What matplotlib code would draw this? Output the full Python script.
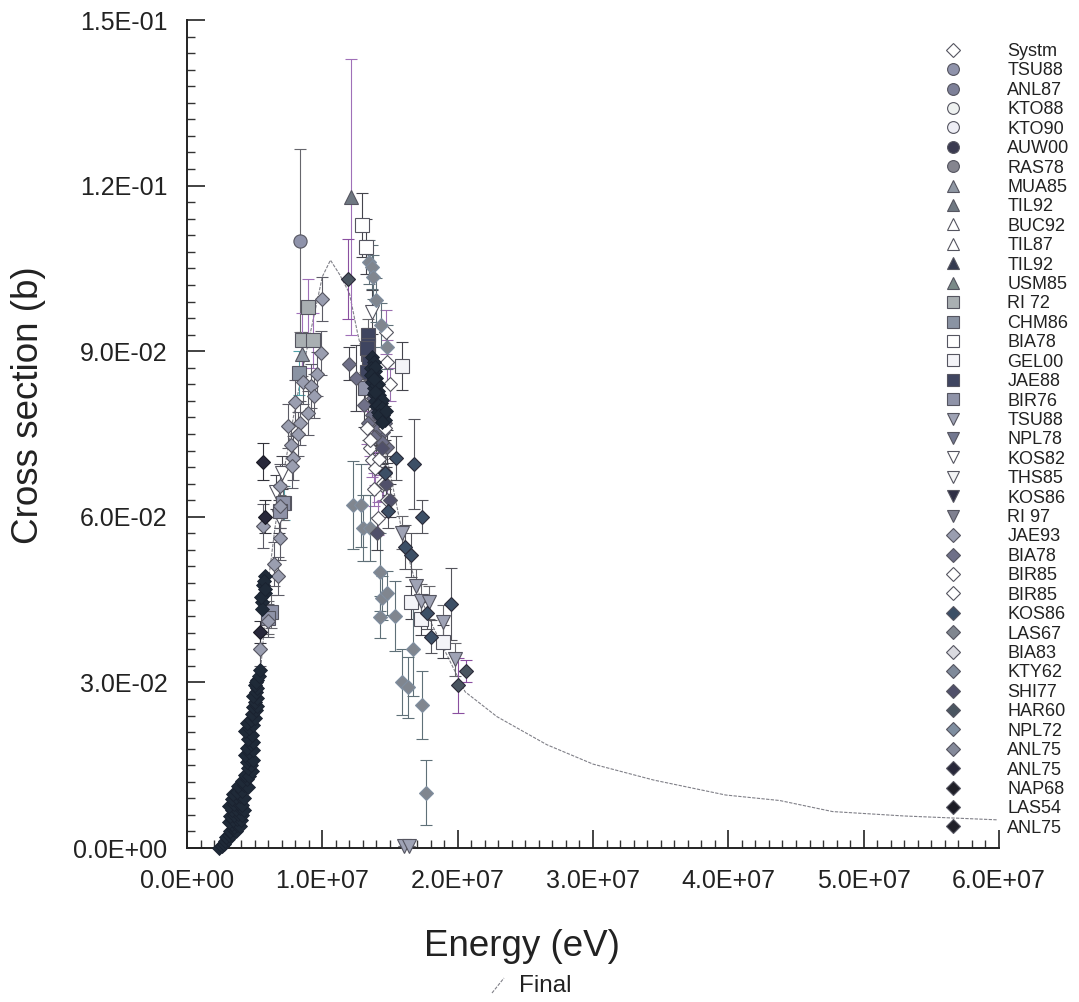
"""
Cross section vs energy: evaluated curve with EXFOR-style experimental points.
"""
import matplotlib
matplotlib.use('Agg')
import matplotlib.pyplot as plt
import matplotlib.ticker as mticker
from matplotlib.lines import Line2D

plt.rcParams['font.family'] = ['Liberation Sans', 'DejaVu Sans']

E_UNIT = 1e7  # energies below are typed in units of 1E+07 eV

# ---- Data ----
final_e = [0.24, 0.30, 0.40, 0.50, 0.55, 0.60, 0.65, 0.70, 0.80, 0.90, 1.00, 1.06, 1.13, 1.20, 1.26,
           1.33, 1.42, 1.50, 1.60, 1.70, 1.80, 1.90, 2.055, 2.29, 2.66, 3.00, 3.45, 3.98, 4.38, 4.77, 5.30, 5.99]
final_s = [0.0, 0.002, 0.0085, 0.023, 0.034, 0.048, 0.058, 0.066, 0.080, 0.092, 0.1035, 0.1065, 0.1038,
           0.1005, 0.0933, 0.086, 0.077, 0.068, 0.056, 0.047, 0.041, 0.036, 0.0283, 0.0238, 0.0187,
           0.0152, 0.0123, 0.0096, 0.0086, 0.0066, 0.0058, 0.0051]

tsu88_e = [0.835]
tsu88_s = [0.110]
tsu88_d = [0.0166]

mua85_e = [0.848]
mua85_s = [0.0895]
mua85_d = [0.004]

til92_e = [1.21]
til92_s = [0.118]
til92_d = [0.025]

ri72_e = [0.848, 0.93, 0.895]
ri72_s = [0.092, 0.092, 0.098]
ri72_d = [0.005, 0.005, 0.005]

chm86_e = [0.828, 0.72]
chm86_s = [0.0861, 0.0625]
chm86_d = [0.004, 0.003]

bia78_sq_e = [1.29, 1.32]
bia78_sq_s = [0.1129, 0.1089]
bia78_sq_d = [0.0058, 0.005]

gel00_e = [1.587, 1.89, 1.655, 1.73]
gel00_s = [0.0873, 0.0374, 0.0445, 0.0415]
gel00_d = [0.0044, 0.003, 0.003, 0.003]

jae88_e = [1.34, 1.34, 1.335, 1.33, 1.345, 1.33]
jae88_s = [0.0929, 0.0912, 0.0895, 0.0905, 0.0878, 0.0862]
jae88_d = [0.003, 0.003, 0.003, 0.003, 0.003, 0.003]

bir76_e = [1.315, 0.62, 0.60, 0.71, 0.69, 1.40]
bir76_s = [0.0833, 0.0428, 0.0417, 0.0625, 0.0610, 0.0770]
bir76_d = [0.003, 0.003, 0.003, 0.003, 0.003, 0.003]

tsu88_v_e = [1.587, 1.693, 1.727, 1.895, 1.98, 1.60, 1.64, 1.79]
tsu88_v_s = [0.0571, 0.0475, 0.0448, 0.041, 0.0342, 0.0003, 0.0003, 0.0445]
tsu88_v_d = [0.003, 0.003, 0.003, 0.003, 0.003, 0.0, 0.0, 0.003]

kos82_e = [1.365, 0.66, 0.68, 0.70]
kos82_s = [0.0971, 0.0645, 0.0600, 0.0680]
kos82_d = [0.004, 0.003, 0.003, 0.003]

jae93_e = [0.995, 0.99, 0.963, 0.858, 0.914, 0.938, 0.798, 0.892, 0.749, 0.835, 0.785, 0.774, 0.687,
           0.56, 0.687, 0.643, 0.670, 0.54, 0.60, 0.69, 0.77, 0.82]
jae93_s = [0.0995, 0.0897, 0.0859, 0.0844, 0.0837, 0.0819, 0.0808, 0.0788, 0.0765, 0.077, 0.0707, 0.0692,
           0.0656, 0.0583, 0.0561, 0.0515, 0.0493, 0.0360, 0.0412, 0.0620, 0.0730, 0.0750]
jae93_d = [0.004, 0.004, 0.004, 0.004, 0.004, 0.004, 0.004, 0.004, 0.004, 0.004, 0.004, 0.004, 0.004,
           0.004, 0.004, 0.004, 0.0035, 0.003, 0.003, 0.004, 0.004, 0.004]

bia78_d_e = [1.20, 1.247, 1.31, 1.37, 1.45, 1.48, 1.465, 1.42, 1.40, 1.375, 1.44, 1.38, 1.46, 1.34]
bia78_d_s = [0.0877, 0.0851, 0.0803, 0.0785, 0.0754, 0.0727, 0.0681, 0.0760, 0.0745, 0.0815, 0.0735, 0.0745,
             0.0770, 0.0770]
bia78_d_d = [0.003, 0.006, 0.004, 0.003, 0.003, 0.003, 0.003, 0.003, 0.003, 0.003, 0.003, 0.003, 0.003, 0.003]

bir85_e = [1.47, 1.475, 1.33, 1.37, 1.39, 1.44, 1.35, 1.476, 1.414, 1.45, 1.38, 1.46, 1.35, 1.42, 1.50]
bir85_s = [0.0935, 0.0880, 0.0761, 0.0703, 0.0688, 0.0658, 0.0725, 0.063, 0.0597, 0.0661, 0.0650, 0.0760,
           0.0740, 0.0705, 0.0840]
bir85_d = [0.004, 0.004, 0.003, 0.003, 0.003, 0.003, 0.003, 0.003, 0.003, 0.003, 0.003, 0.003, 0.003, 0.003,
           0.003]

kos86_e = [1.542, 1.68, 1.735, 1.611, 1.653, 1.771, 1.80, 1.95, 1.463, 1.486]
kos86_s = [0.0706, 0.0696, 0.060, 0.0545, 0.0531, 0.0426, 0.0383, 0.0442, 0.068, 0.061]
kos86_d = [0.004, 0.0082, 0.003, 0.004, 0.004, 0.003, 0.003, 0.0065, 0.003, 0.003]

las67_e = [1.23, 1.286, 1.30, 1.353, 1.426, 1.44, 1.48, 1.426, 1.537, 1.673, 1.587, 1.636, 1.735, 1.764,
           1.345, 1.37, 1.375, 1.40, 1.43, 1.475]
las67_s = [0.0621, 0.0621, 0.058, 0.058, 0.050, 0.0453, 0.0462, 0.0419, 0.042, 0.036, 0.0301, 0.0291,
           0.0259, 0.010, 0.1062, 0.1053, 0.1035, 0.0993, 0.0948, 0.0908]
las67_d = [0.008, 0.0075, 0.006, 0.006, 0.007, 0.004, 0.004, 0.0038, 0.0063, 0.0085, 0.006, 0.0055, 0.0062,
           0.0059, 0.004, 0.004, 0.004, 0.004, 0.004, 0.004]

shi77_e = [1.407, 1.44, 1.47, 1.50, 1.42]
shi77_s = [0.057, 0.0725, 0.0660, 0.0630, 0.0780]
shi77_d = [0.003, 0.003, 0.003, 0.003, 0.003]

har60_e = [1.187, 2.062, 2.005]
har60_s = [0.1031, 0.0321, 0.0295]
har60_d = [0.0072, 0.002, 0.005]

anl75_e = [0.564, 0.574, 0.54]
anl75_s = [0.0700, 0.0600, 0.0391]
anl75_d = [0.0033, 0.003, 0.002]

# dense low-energy rise and the 14 MeV column
las54_e = [.24, .26, .27, .28, .30, .29, .31, .33, .32, .34, .36, .35, .33, .37, .39, .31, .34, .37, .40, .32,
           .35, .38, .41, .33, .36, .39, .42, .31, .35, .38, .41, .33, .36, .39, .42, .34, .37, .41, .38, .42,
           .45, .41, .44, .43, .46, .48, .45, .47, .44, .46, .49, .43, .46, .49, .44, .47, .49, .45, .48, .43,
           .46, .49, .44, .47, .50, .48, .51, .49, .52, .50, .52, .49, .51, .52, .50, .52, .51, .53, .54,
           .576, .562, .576, .552, .552, .57, .55, .575,
           1.37, 1.38, 1.36, 1.39, 1.37, 1.40, 1.37, 1.41, 1.38, 1.41, 1.38, 1.42, 1.39, 1.43, 1.40, 1.44,
           1.41, 1.45, 1.43, 1.46, 1.39, 1.36, 1.40, 1.38, 1.42, 1.39, 1.44, 1.41, 1.44, 1.42, 1.47, 1.44]
las54_s = [.0000, .0003, .0008, .0012, .0016, .0020, .0024, .0026, .0031, .0034, .0030, .0038, .0043, .0042,
           .0040, .0048, .0050, .0052, .0050, .0058, .0060, .0062, .0060, .0068, .0070, .0072, .0068, .0076,
           .0080, .0082, .0078, .0088, .0092, .0095, .0090, .0098, .0102, .0104, .0112, .0115, .0110, .0122,
           .0125, .0132, .0130, .0139, .0145, .0150, .0156, .0162, .0160, .0168, .0174, .0178, .0182, .0188,
           .0192, .0198, .0204, .0212, .0218, .0222, .0226, .0232, .0236, .0243, .0250, .0256, .0258, .0264,
           .0272, .0276, .0282, .0290, .0296, .0305, .0300, .0312, .0322,
           .0492, .0477, .0462, .0446, .0433, .0484, .0455, .0470,
           .0890, .0880, .0870, .0865, .0858, .0852, .0845, .0840, .0834, .0828, .0822, .0816, .0810, .0806,
           .0800, .0795, .0790, .0785, .0780, .0776, .0872, .0856, .0838, .0850, .0820, .0826, .0812, .0802,
           .0798, .0784, .0792, .0772]

# legend rows, top to bottom
legend_labels = ['Systm', 'TSU88', 'ANL87', 'KTO88', 'KTO90', 'AUW00', 'RAS78', 'MUA85', 'TIL92', 'BUC92',
                 'TIL87', 'TIL92', 'USM85', 'RI 72', 'CHM86', 'BIA78', 'GEL00', 'JAE88', 'BIR76', 'TSU88',
                 'NPL78', 'KOS82', 'THS85', 'KOS86', 'RI 97', 'JAE93', 'BIA78', 'BIR85', 'BIR85', 'KOS86',
                 'LAS67', 'BIA83', 'KTY62', 'SHI77', 'HAR60', 'NPL72', 'ANL75', 'ANL75', 'NAP68', 'LAS54',
                 'ANL75']
legend_markers = ['D'] + ['o'] * 6 + ['^'] * 6 + ['s'] * 6 + ['v'] * 6 + ['D'] * 16
legend_colors = ['#ffffff', '#8f93ab', '#7d8098', '#eef1f0', '#eeeef5', '#3a3a50', '#85858f',
                 '#8f97a3', '#6f7882', '#ffffff', '#ffffff', '#343a50', '#7a8a88',
                 '#a9afb2', '#8a93a3', '#ffffff', '#f4f4f8', '#3f4560', '#8f93a8',
                 '#9fa3b5', '#737890', '#ffffff', '#f2f3f5', '#2f2f45', '#7f8090',
                 '#9a9eb0', '#6f7088', '#ffffff', '#ffffff', '#3c4f66', '#80868f', '#dadae0', '#7f8a9a',
                 '#50506a', '#4a5560', '#7f8ea0', '#858a9a', '#28283a', '#202028', '#1a1a24', '#1f1f28']

# ---- Plot ----
fig = plt.figure(figsize=(10.79, 10.02), dpi=100)
ax = fig.add_axes([187 / 1079, 1 - 848 / 1002, 812 / 1079, 828 / 1002])

ax.plot([e * E_UNIT for e in final_e], final_s, color='#808088', lw=0.8, ls=(0, (3, 1.2)), zorder=2)


def draw_series(es, ss, ds, marker, color, ms, ecolor='#66666c', edge='#555560', z=3):
    xs = [e * E_UNIT for e in es]
    ax.errorbar(xs, ss, yerr=ds, fmt='none', ecolor=ecolor, elinewidth=0.8, capsize=4.5, capthick=0.8,
                clip_on=False, zorder=z)
    ax.plot(xs, ss, ls='none', marker=marker, ms=ms, mfc=color, mec=edge, mew=0.8, clip_on=False, zorder=z + 0.1)


draw_series(tsu88_e, tsu88_s, tsu88_d, 'o', '#8f93ab', 9.5)
draw_series(mua85_e, mua85_s, mua85_d, '^', '#8f97a3', 10)
draw_series(til92_e, til92_s, til92_d, '^', '#6f7882', 10.5, ecolor='#a070b8')
draw_series(ri72_e, ri72_s, ri72_d, 's', '#a9afb2', 10.5, ecolor='#a070b8')
draw_series(chm86_e, chm86_s, chm86_d, 's', '#8a93a3', 10, ecolor='#50a0a8')
draw_series(bia78_sq_e, bia78_sq_s, bia78_sq_d, 's', '#ffffff', 10.5, ecolor='#44444c')
draw_series(gel00_e, gel00_s, gel00_d, 's', '#f4f4f8', 10.5, ecolor='#44444c')
draw_series(kos82_e, kos82_s, kos82_d, 'v', '#ffffff', 10.5, ecolor='#44444c')
draw_series(jae88_e, jae88_s, jae88_d, 's', '#3f4560', 10)
draw_series(bir76_e, bir76_s, bir76_d, 's', '#8f93a8', 10)
draw_series(tsu88_v_e, tsu88_v_s, tsu88_v_d, 'v', '#9fa3b5', 10.5)
draw_series(jae93_e, jae93_s, jae93_d, 'D', '#9a9eb0', 7.5, ecolor='#5c5c66')
draw_series(bia78_d_e, bia78_d_s, bia78_d_d, 'D', '#6f7088', 7.5, ecolor='#44444c')
draw_series(bir85_e, bir85_s, bir85_d, 'D', '#ffffff', 7.5, ecolor='#9a6fb0')
draw_series(las67_e, las67_s, las67_d, 'D', '#80868f', 7.5, ecolor='#5f7078', edge='#7f8ea0')
draw_series(shi77_e, shi77_s, shi77_d, 'D', '#50506a', 7.5, ecolor='#44444c')
draw_series(kos86_e, kos86_s, kos86_d, 'D', '#3c4f66', 7.5, ecolor='#55555c', edge='#2a2a38')
draw_series(har60_e, har60_s, har60_d, 'D', '#4a5560', 7.5, ecolor='#8a4fa0', edge='#2a2a38')
draw_series(anl75_e, anl75_s, anl75_d, 'D', '#28283a', 7.5, ecolor='#33333a', edge='#1a1a24')
ax.plot([e * E_UNIT for e in las54_e], las54_s, ls='none', marker='D', ms=7.5, mfc='#1f2a38', mec='#1a2230',
        mew=0.6, clip_on=False, zorder=5)

# axes
ax.set_xlim(0, 6e7)
ax.set_ylim(0, 0.15)
ax.spines['top'].set_visible(False)
ax.spines['right'].set_visible(False)
for s in ['left', 'bottom']:
    ax.spines[s].set_linewidth(1.4)
    ax.spines[s].set_color('#222222')
ax.xaxis.set_major_locator(mticker.MultipleLocator(1e7))
ax.xaxis.set_minor_locator(mticker.AutoMinorLocator(10))
ax.yaxis.set_major_locator(mticker.MultipleLocator(0.03))
ax.yaxis.set_minor_locator(mticker.AutoMinorLocator(10))
fmt = mticker.FuncFormatter(lambda v, _: f'{v:.1E}')
ax.xaxis.set_major_formatter(fmt)
ax.yaxis.set_major_formatter(fmt)
ax.tick_params(which='major', direction='in', length=13, width=1.2, color='#222222', labelsize=18,
               labelcolor='#222222')
ax.tick_params(which='minor', direction='in', length=5.5, width=1.0, color='#333333')
ax.tick_params(axis='x', which='major', pad=15)
ax.tick_params(axis='y', which='major', pad=14)

fig.text(522 / 1079, 1 - 947 / 1002, 'Energy (eV)', fontsize=26.5, ha='center', va='center', color='#222222')
fig.text(29 / 1079, 1 - 405 / 1002, 'Cross section (b)', fontsize=26.5, rotation=90, ha='center', va='center',
         color='#222222')

# legend
handles = [Line2D([], [], ls='none', marker=m, ms=(7 if m == 'D' else 8.5), mfc=c, mec='#555560', mew=0.8)
           for m, c in zip(legend_markers, legend_colors)]
fig.legend(handles, legend_labels, loc='upper left', bbox_to_anchor=(935 / 1079, 1 - 43 / 1002), frameon=False,
           fontsize=13, numpoints=1, handlelength=2, handletextpad=2, labelspacing=0.134, borderpad=0,
           borderaxespad=0, labelcolor='#222222')

# key for the evaluated curve under the x label
fig.add_artist(Line2D([492 / 1079, 504 / 1079], [1 - 993 / 1002, 1 - 978 / 1002], color='#808088', lw=0.8,
                      ls=(0, (3, 1.2))))
fig.text(519 / 1079, 1 - 986 / 1002, 'Final', fontsize=17.5, ha='left', va='center', color='#222222')

fig.savefig('out.png', dpi=100)
plt.close()
